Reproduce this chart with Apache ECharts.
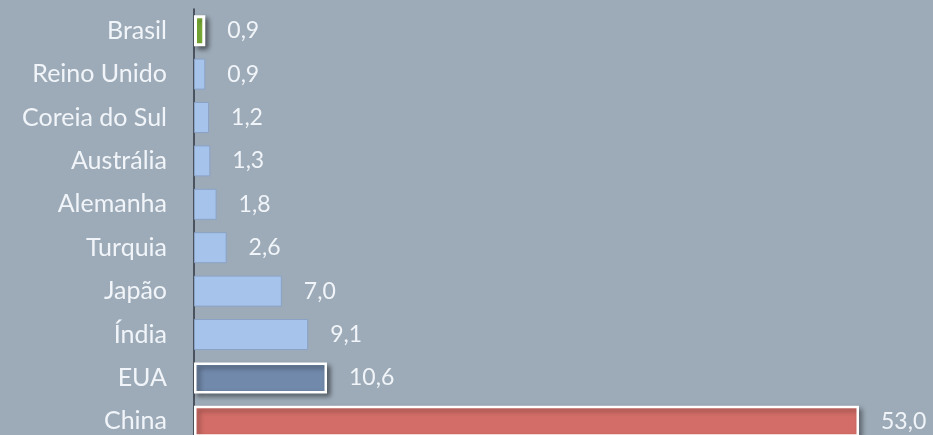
<!DOCTYPE html>
<html><head><meta charset="utf-8">
<script src="https://cdn.jsdelivr.net/npm/echarts@6/dist/echarts.min.js"></script>
<style>html,body{margin:0;padding:0;background:#9dabb8;overflow:hidden;height:435px;}#c{width:933px;height:450px;}</style>
</head><body><div id="c"></div>
<script>
const categories = ['Brasil','Reino Unido','Coreia do Sul','Austrália','Alemanha','Turquia','Japão','Índia','EUA','China'];
const values = [0.9, 0.9, 1.2, 1.3, 1.8, 2.6, 7.0, 9.1, 10.6, 53.0];

const normal = {color:'#a6c4eb', borderColor:'#8aa2c6', borderWidth:1};
const special = {
  'Brasil': {color:'#8cc63f', borderColor:'#ffffff', borderWidth:3, shadowColor:'rgba(0,0,0,0.45)', shadowBlur:5, shadowOffsetX:3, shadowOffsetY:3},
  'EUA': {color:'#7189ab', borderColor:'#ffffff', borderWidth:2.5, shadowColor:'rgba(0,0,0,0.45)', shadowBlur:5, shadowOffsetX:3, shadowOffsetY:3},
  'China': {color:'#d36d67', borderColor:'#ffffff', borderWidth:2.5, shadowColor:'rgba(0,0,0,0.35)', shadowBlur:5, shadowOffsetX:3, shadowOffsetY:3}
};
const data = categories.map((c,i)=>({value:values[i], itemStyle: special[c] || normal}));

const chart = echarts.init(document.getElementById('c'));
chart.setOption({
  backgroundColor:'#9dabb8',
  animation:false,
  grid:{left:194, top:9, width:665, height:434, containLabel:false},
  xAxis:{type:'value', min:0, max:53, show:false},
  yAxis:{type:'category', data:categories, inverse:true,
    axisLine:{show:true, lineStyle:{color:'#2f3640', width:1.5}},
    axisTick:{show:false},
    axisLabel:{color:'#f1f5f9', fontFamily:'Lato', fontSize:25, margin:27}
  },
  series:[{type:'bar', data:data, barWidth:31,
    label:{show:true, position:'right', distance:22, color:'#f1f5f9', fontFamily:'Lato', fontSize:23,
      formatter:p=>p.value.toFixed(1).replace('.',',')}
  }]
});
</script></body></html>
